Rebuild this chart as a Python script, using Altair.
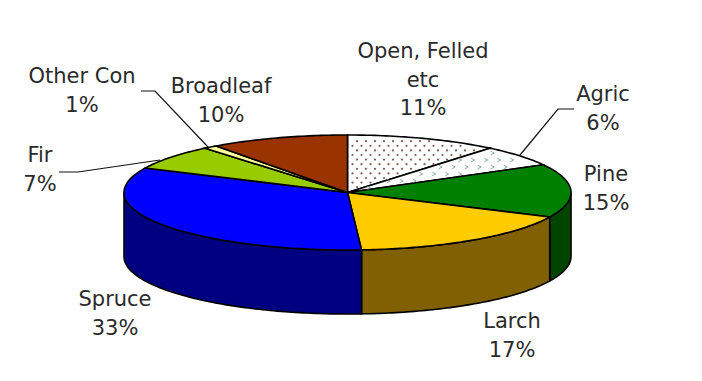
import math
import altair as alt

# --- data ---
names = ["Open, Felled etc", "Agric", "Pine", "Larch", "Spruce", "Fir", "Other Con", "Broadleaf"]
shares = [11, 6, 15, 17, 33, 7, 1, 10]
top_colors = ["#FFFFFF", "#FFFFFF", "#008000", "#FFCC00", "#0000FF", "#99CC00", "#FFFF99", "#993300"]
side_colors = ["#808080", "#808080", "#004400", "#806000", "#000080", "#4D6600", "#80804D", "#4D1A00"]
label_lines = [["Open, Felled", "etc", "11%"], ["Agric", "6%"], ["Pine", "15%"], ["Larch", "17%"],
               ["Spruce", "33%"], ["Fir", "7%"], ["Other Con", "1%"], ["Broadleaf", "10%"]]
label_x = [423, 603, 606, 512, 115, 40, 82, 221]
label_y = [52, 95, 175, 322, 300, 156, 77, 87]
leaders = [
    [[141, 91], [155, 91], [208, 147]],
    [[59, 172], [78, 172], [160, 160]],
    [[520, 155], [558, 109], [574, 109]],
]

# --- pie geometry, in picture pixels ---
CX, CY, A, B, DEPTH = 347.5, 192.5, 223.5, 57.5, 64
LINE_GAP = 28.5


def rim(t_deg, dy=0):
    t = math.radians(t_deg)
    return [CX + A * math.sin(t), CY - B * math.cos(t) + dy]


def arc(t0, t1, dy=0):
    n = max(2, int(abs(t1 - t0)) + 1)
    return [rim(t0 + (t1 - t0) * i / n, dy) for i in range(n + 1)]


def feature(ring, fill):
    return {"type": "Feature", "properties": {"fill": fill},
            "geometry": {"type": "Polygon", "coordinates": [ring + [ring[0]]]}}


tops, sides, spans = [], [], []
start = 0.0
for share, top, side in zip(shares, top_colors, side_colors):
    end = start + share * 3.6
    spans.append((start, end))
    tops.append(feature([[CX, CY]] + arc(start, end), top))
    s0, s1 = max(start, 90), min(end, 270)
    if s1 > s0:
        sides.append(feature(arc(s0, s1) + arc(s1, s0, DEPTH), side))
    start = end


def in_slice(x, y, span):
    u, v = (x - CX) / A, (CY - y) / B
    if u * u + v * v > 0.93:
        return False
    ang = math.degrees(math.atan2(u, v)) % 360
    return span[0] + 1.5 < ang < span[1] - 1.5


def texture(span, dx, dy):
    out = []
    for r in range(0, 30):
        y = 132 + r * dy
        for c in range(0, 60):
            x = 330 + c * dx + (dx / 2 if r % 2 else 0)
            if in_slice(x, y, span):
                out.append({"x": x, "y": y})
    return out


labels = []
for xs, ys, lines in zip(label_x, label_y, label_lines):
    for i, line in enumerate(lines):
        labels.append({"x": xs, "y": ys + i * LINE_GAP, "t": line})

leader_features = [{"type": "Feature", "properties": {},
                    "geometry": {"type": "LineString", "coordinates": pts}} for pts in leaders]

proj = dict(type="identity", scale=1, translate=[-8, -8])
fill_enc = alt.Color("properties.fill:N", scale=None, legend=None)


def geo(features, **kw):
    return alt.Chart(alt.Data(values=features)).mark_geoshape(**kw).project(**proj)


side_layer = geo(sides, stroke="black", strokeWidth=1.6).encode(fill=fill_enc)
top_layer = geo(tops, stroke="black", strokeWidth=1.6).encode(fill=fill_enc)
leader_layer = geo(leader_features, filled=False, stroke="#111111", strokeWidth=1.2)

dots = alt.Chart(alt.Data(values=texture(spans[0], 9, 4.6))).mark_circle(
    size=5, color="#6E4F45", opacity=0.9
).encode(longitude="x:Q", latitude="y:Q").project(**proj)
squiggles = alt.Chart(alt.Data(values=texture(spans[1], 13, 7))).mark_point(
    shape="M-1,-1L1,0L-1,1", filled=False, size=12, color="#6F9A8E", strokeWidth=0.9, opacity=0.9
).encode(longitude="x:Q", latitude="y:Q").project(**proj)

text_layer = alt.Chart(alt.Data(values=labels)).mark_text(
    font="DejaVu Sans", fontSize=21, color="#2A2A2A", align="center", baseline="middle"
).encode(longitude="x:Q", latitude="y:Q", text="t:N").project(**proj)

chart = alt.layer(side_layer, top_layer, dots, squiggles, leader_layer, text_layer).properties(
    width=686, height=365, padding=0, background="white"
).configure_view(stroke=None)

chart.save("out.html", embed_options={"renderer": "svg", "actions": False})
